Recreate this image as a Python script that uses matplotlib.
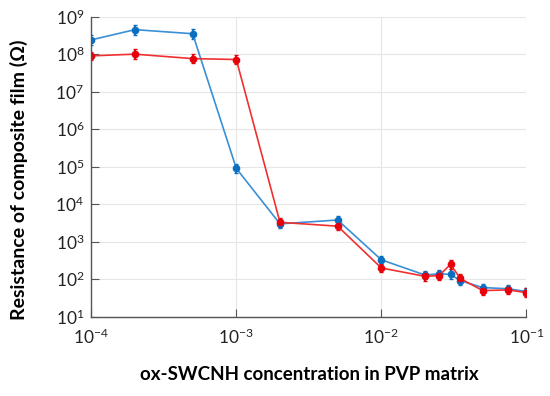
import matplotlib.pyplot as plt
import numpy as np

conc = [1e-4, 2e-4, 5e-4, 1e-3, 2e-3, 5e-3, 1e-2, 2e-2, 2.5e-2, 3e-2, 3.5e-2, 5e-2, 7.5e-2, 1e-1]
blue_r = [2.4e8, 4.5e8, 3.5e8, 9e4, 3.0e3, 3.8e3, 3.3e2, 1.3e2, 1.4e2, 1.35e2, 92, 60, 56, 47]
red_r = [9e7, 1.0e8, 7.6e7, 7.2e7, 3.3e3, 2.6e3, 2.0e2, 1.2e2, 1.25e2, 2.5e2, 105, 50, 52, 44]
# relative error (fraction of value)
blue_err = [0.35, 0.35, 0.35, 0.35, 0.3, 0.3, 0.3, 0.3, 0.3, 0.35, 0.3, 0.25, 0.25, 0.25]
red_err = [0.3, 0.35, 0.3, 0.3, 0.3, 0.3, 0.3, 0.3, 0.3, 0.3, 0.3, 0.3, 0.3, 0.3]

plt.rcParams['font.family'] = ['Lato', 'DejaVu Sans']

fig = plt.figure(figsize=(5.5, 3.96), dpi=100)
ax = fig.add_axes([0.166, 0.20, 0.791, 0.758])

for y, e, lc, mc in [(blue_r, blue_err, '#3b8fd4', '#0a6fc2'),
                     (red_r, red_err, '#f03030', '#e8000b')]:
    y = np.array(y)
    e = np.array(e)
    ax.errorbar(conc, y, yerr=[y * e / (1 + e), y * e], color=lc, lw=1.2,
                marker='o', ms=4.5, mfc=mc, mec=mc, ecolor=mc, elinewidth=1.4,
                capsize=1.5, capthick=1)

ax.set_xscale('log')
ax.set_yscale('log')
ax.set_xlim(1e-4, 1e-1)
ax.set_ylim(1e1, 1e9)
ax.set_xticks([1e-4, 1e-3, 1e-2, 1e-1])
ax.set_yticks([10.0 ** k for k in range(1, 10)])
ax.minorticks_off()
ax.grid(True, color='#e6e6e6', lw=0.8)
ax.set_axisbelow(True)
for s in ['top', 'right']:
    ax.spines[s].set_visible(False)
for s in ['left', 'bottom']:
    ax.spines[s].set_color('#555555')
    ax.spines[s].set_linewidth(1.0)
ax.tick_params(direction='in', length=6, color='#555555', labelsize=12.5, labelcolor='#222222')
ax.tick_params(axis='x', pad=8)
ax.tick_params(axis='y', pad=5)

ax.set_xlabel('ox-SWCNH concentration in PVP matrix', fontsize=13.5, fontweight='bold')
ax.xaxis.set_label_coords(0.5, -0.165)
ax.set_ylabel('Resistance of composite film (Ω)', fontsize=14, fontweight='bold', color='black')
ax.yaxis.set_label_coords(-0.145, 0.455)

fig.savefig('out.png', dpi=100)
